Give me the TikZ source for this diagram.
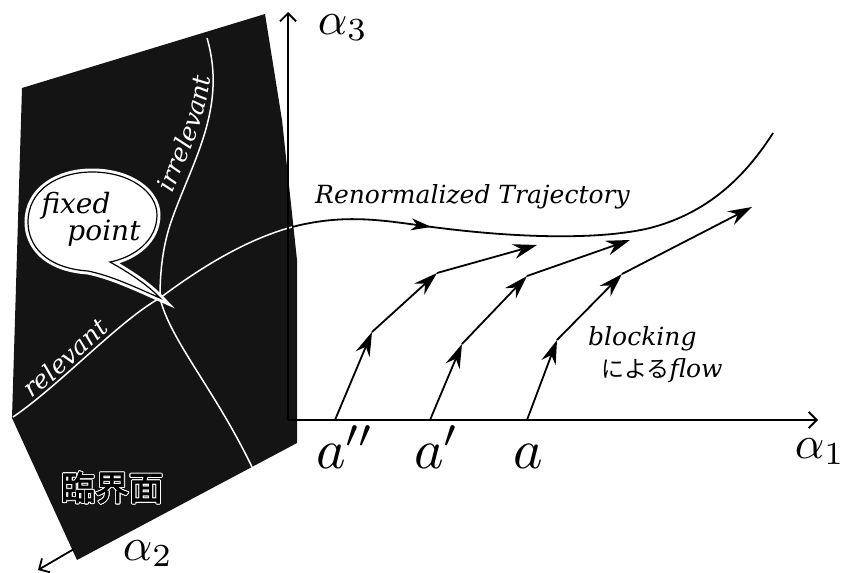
\documentclass[tikz,border=0pt]{standalone}
\usepackage{fontspec}
\newfontfamily\jpfont{Noto Sans CJK JP}
\newfontfamily\jpbold[FakeBold=2.5]{Noto Sans CJK JP}
\newfontfamily\lblfont{DejaVu Serif}
\usepackage[copies]{contour}
\contourlength{0.9pt}
\usetikzlibrary{arrows.meta,decorations.text,decorations.markings}

\begin{document}
\begin{tikzpicture}[x=1pt, y=-1pt, >=Stealth,
  axis/.style={line width=1.8pt, -{Straight Barb[length=8pt,width=16pt]}},
  flow/.style={line width=1.8pt, -{Stealth[length=24pt,width=15pt,inset=8pt]}},
  traj/.style={line width=1.8pt},
  sepline/.style={white, line width=1.5pt},
  bubble/.style={fill=white, draw=black, line width=1.2pt, preaction={draw=white, line width=7pt}},
  txt/.style={font=\lblfont\fontsize{25}{27}\selectfont\itshape, inner sep=0pt},
  bigsym/.style={scale=4.6, inner sep=0pt},
  coupling/.style={scale=5.6, inner sep=0pt}]
  \useasboundingbox (0,0) rectangle (841,573);
  % critical surface
  \fill[black!92] (22,88) -- (265,14) -- (282,120) -- (297,260) -- (297,443) -- (77,560) -- (12,418) -- cycle;
  \coordinate (fp) at (160,298);
  \coordinate (edge) at (292,227);
  % flow lines on the surface
  \draw[sepline] (207,38) .. controls (228,110) and (190,165) .. (170,225) .. controls (162,250) and (160,275) .. (fp);
  \draw[sepline] (fp) .. controls (170,340) and (215,390) .. (252,467);
  \draw[sepline] (13,417) .. controls (60,385) and (120,320) .. (fp);
  \draw[sepline] (fp) .. controls (200,268) and (245,240) .. (edge);
  \path[decorate, decoration={text along path, text color=white, raise=4pt,
      text={|\lblfont\fontsize{25}{25}\selectfont\itshape|irrelevant}}]
    (176,195) .. controls (198,140) and (226,95) .. (210,20);
  \path[decorate, decoration={text along path, text color=white, raise=4pt,
      text={|\lblfont\fontsize{25}{25}\selectfont\itshape|relevant}}]
    (34,402) .. controls (66,378) and (104,338) .. (150,300);
  \node[font=\jpbold\fontsize{34}{34}\selectfont, inner sep=0pt] (surf) at (112,488) {\contour{white}{臨界面}};
  % callout
  \draw[bubble] (88,271) .. controls (45,268) and (28,245) .. (28,222)
    .. controls (28,190) and (58,172) .. (92,172)
    .. controls (130,172) and (157,192) .. (157,215)
    .. controls (157,240) and (135,257) .. (110,262)
    .. controls (128,272) and (148,285) .. (fp)
    .. controls (135,287) and (112,276) .. cycle;
  \node[txt, font=\lblfont\fontsize{28}{28}\selectfont\itshape, anchor=base] (fixtxt) at (76,213) {fixed};
  \node[txt, font=\lblfont\fontsize{28}{28}\selectfont\itshape, anchor=base] (pttxt) at (104,240) {point};
  % axes
  \coordinate (orig) at (288,420);
  \coordinate (x1tip) at (818,420);
  \coordinate (x3tip) at (288,12);
  \coordinate (x2from) at (74,549);
  \coordinate (x2tip) at (38,570);
  \draw[axis] (orig) -- (x3tip);
  \draw[axis] (orig) -- (x1tip);
  \draw[axis] (x2from) -- (x2tip);
  \node[bigsym, anchor=base west] (a3) at (317,34) {$\alpha_3$};
  \node[bigsym, anchor=base west] (a1) at (794,458) {$\alpha_1$};
  \node[bigsym, anchor=base west] (a2) at (122,560) {$\alpha_2$};
  % renormalized trajectory
  \draw[traj, decoration={markings, mark=at position 0.27 with {\arrow{Stealth[length=20pt,width=12pt,inset=6pt]}}}, postaction={decorate}]
    (edge) .. controls (350,212) and (390,222) .. (440,228)
    .. controls (520,238) and (600,240) .. (650,228)
    .. controls (700,215) and (740,185) .. (773,133);
  \node[txt, anchor=base west] (rt) at (315,203) {Renormalized Trajectory};
  % blocking flows
  \coordinate (s1) at (335,420);
  \coordinate (s2) at (430,420);
  \coordinate (s3) at (527,420);
  \draw[flow] (s1) -- (372,332) coordinate (k11);
  \draw[flow] (k11) -- (437,273) coordinate (k12);
  \draw[flow] (k12) -- (537,245);
  \draw[flow] (s2) -- (462,344) coordinate (k21);
  \draw[flow] (k21) -- (527,276) coordinate (k22);
  \draw[flow] (k22) -- (630,240);
  \draw[flow] (s3) -- (557,340) coordinate (k31);
  \draw[flow] (k31) -- (622,274) coordinate (k32);
  \draw[flow] (k32) -- (752,207);
  \node[coupling, anchor=base west] (app) at (315,468) {$a''$};
  \node[coupling, anchor=base west] (ap) at (413,468) {$a'$};
  \node[coupling, anchor=base west] (a) at (512,468) {$a$};
  \node[txt, anchor=base west] (blk) at (588,345) {blocking};
  \node[txt, anchor=base west] (byflow) at (601,377) {{\upshape\jpfont\fontsize{23}{23}\selectfont による}flow};
\end{tikzpicture}
\end{document}
